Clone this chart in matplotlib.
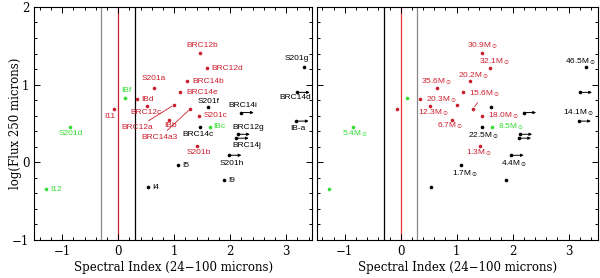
import matplotlib
matplotlib.use("Agg")
import matplotlib.pyplot as plt
from matplotlib.ticker import MultipleLocator

# source names, spectral index, log flux 250um
names = ["BRC12b", "BRC12d", "S201a", "BRC14b", "BRC14e", "IBd", "IBf", "I11",
         "BRC12c", "BRC12a", "IBb", "BRC14a3", "S201f", "S201c", "BRC14i",
         "S201g", "BRC14d", "IB-a", "BRC14c", "IBc", "BRC12g", "BRC14j",
         "S201d", "S201b", "S201h", "I5", "I9", "I4", "I12"]
alpha = [1.46, 1.59, 0.64, 1.23, 1.11, 0.34, 0.12, -0.07,
         0.52, 1.00, 0.91, 1.29, 1.61, 1.45, 2.20,
         3.32, 3.20, 3.18, 1.46, 1.63, 2.13, 2.11,
         -0.86, 1.41, 1.98, 1.07, 1.89, 0.54, -1.29]
logflux = [1.41, 1.21, 0.96, 1.04, 0.90, 0.81, 0.83, 0.68,
           0.72, 0.74, 0.55, 0.69, 0.71, 0.60, 0.64,
           1.23, 0.90, 0.53, 0.45, 0.46, 0.36, 0.31,
           0.46, 0.21, 0.09, -0.04, -0.23, -0.32, -0.35]
groups = ["r", "r", "r", "r", "r", "r", "g", "r",
          "r", "r", "r", "r", "k", "r", "k",
          "k", "k", "k", "k", "g", "k", "k",
          "g", "r", "k", "k", "k", "k", "g"]
# sources with lower limit on the spectral index
limits = ["BRC14i", "S201g", "BRC14d", "IB-a", "BRC12g", "BRC14j", "S201h"]
# masses shown in the right panel
masses = {"BRC12b": "30.9", "BRC12d": "32.1", "BRC14b": "20.2", "S201a": "35.6",
          "BRC14a3": "15.6", "IBd": "20.3", "BRC12c": "12.3", "IBb": "6.7",
          "S201c": "18.0", "IBc": "8.5", "BRC14c": "22.5", "S201g": "46.5",
          "IB-a": "14.1", "S201d": "5.4", "S201b": "1.3", "S201h": "4.4",
          "I5": "1.7"}

colors = {"r": "#cc1f2e", "g": "#33dd33", "k": "black"}

# label offsets in pixels (dx, dy, ha, leader line)
left_off = {
    "BRC12b": (2, 7, "center", False), "BRC12d": (4, 0, "left", False),
    "S201a": (0, 9, "center", False), "BRC14b": (5, 0, "left", False),
    "BRC14e": (6, 0, "left", False), "IBd": (4, 0, "left", False),
    "IBf": (1, 7, "center", False), "I11": (-4, -7, "center", False),
    "BRC12c": (-1, -6, "center", False), "BRC12a": (-37, -23, "center", True),
    "IBb": (1, -6, "center", False), "BRC14a3": (-31, -29, "center", True),
    "S201f": (0, 6, "center", False), "S201c": (4, 0, "left", False),
    "BRC14i": (1, 7, "center", False), "S201g": (-7, 8, "center", False),
    "BRC14d": (-2, -5, "center", False), "IB-a": (2, -7, "center", False),
    "BRC14c": (-2, -7, "center", False), "IBc": (4, 0, "left", False),
    "BRC12g": (11, 7, "center", False), "BRC14j": (10, -7, "center", False),
    "S201d": (1, -7, "center", False), "S201b": (2, -7, "center", False),
    "S201h": (3, -8, "center", False), "I5": (4, 0, "left", False),
    "I9": (4, 0, "left", False), "I4": (4, 0, "left", False),
    "I12": (4, 0, "left", False),
}
right_off = {
    "BRC12b": (0, 7, "center", False), "BRC12d": (5, 7, "center", False),
    "BRC14b": (4, 6, "center", False), "S201a": (0, 6, "center", False),
    "BRC14a3": (12, 15, "center", True), "IBd": (6, 0, "left", False),
    "BRC12c": (4, -6, "center", False), "IBb": (-1, -6, "center", False),
    "S201c": (6, 0, "left", False), "IBc": (6, 0, "left", False),
    "BRC14c": (1, -8, "center", False), "S201g": (-6, 5, "center", False),
    "IB-a": (0, 8, "center", False), "S201d": (3, -7, "center", False),
    "S201b": (0, -7, "center", False), "S201h": (3, -8, "center", False),
    "I5": (5, -8, "center", False),
}

fig = plt.figure(figsize=(6.0, 2.78), dpi=100)
ax1 = fig.add_axes([0.057, 0.137, 0.463, 0.838])
ax2 = fig.add_axes([0.528, 0.137, 0.468, 0.838])

serif = "DejaVu Serif"
lab_font = dict(family="Liberation Sans", fontsize=6)


def setup(ax, xmax):
    ax.set_xlim(-1.5, xmax)
    ax.set_ylim(-1, 2)
    ax.xaxis.set_major_locator(MultipleLocator(1))
    ax.xaxis.set_minor_locator(MultipleLocator(0.2))
    ax.yaxis.set_major_locator(MultipleLocator(1))
    ax.yaxis.set_minor_locator(MultipleLocator(0.2))
    ax.tick_params(which="both", direction="in", top=True, right=True,
                   labelsize=8.5, width=0.7)
    ax.tick_params(which="major", length=4.5)
    ax.tick_params(which="minor", length=2.5)
    for lab in ax.get_xticklabels() + ax.get_yticklabels():
        lab.set_family(serif)
    for s in ax.spines.values():
        s.set_linewidth(0.8)
    ax.set_xlabel("Spectral Index (24\u2212100 microns)", family=serif,
                  fontsize=8.5, labelpad=2)


def draw(ax, offsets, text_of):
    for n, x, y, g in zip(names, alpha, logflux, groups):
        c = colors[g]
        ax.plot(x, y, "o", ms=2.6, color=c, mec="none", zorder=3)
        if n in limits:
            ax.annotate("", xy=(x + 0.22, y), xytext=(x, y),
                        arrowprops=dict(arrowstyle="-|>", lw=0.7, color=c,
                                        mutation_scale=4, shrinkA=0, shrinkB=0))
        if n in offsets:
            dx, dy, ha, line = offsets[n]
            ax.annotate(text_of(n), xy=(x, y), xytext=(dx, dy),
                        textcoords="offset pixels", ha=ha, va="center",
                        color=c, **lab_font,
                        arrowprops=dict(arrowstyle="-", lw=0.6, color=c,
                                        shrinkA=1, shrinkB=2) if line else None)


setup(ax1, 3.46)
ax1.set_ylabel("log(Flux 250 microns)", family=serif, fontsize=8.5)
ax1.yaxis.set_label_coords(-0.045, 0.5)
for xv, c in zip([-0.3, 0, 0.3], ["#888888", "#cc1f2e", "black"]):
    ax1.axvline(xv, color=c, lw=0.9, zorder=1)
draw(ax1, left_off, lambda n: n)

setup(ax2, 3.52)
ax2.tick_params(labelleft=False)
for xv, c in zip([-0.3, 0, 0.3], ["black", "#e83030", "#888888"]):
    ax2.axvline(xv, color=c, lw=0.9, zorder=1)
draw(ax2, right_off, lambda n: masses[n] + r"M$_\odot$")

fig.savefig("out.png", dpi=100)
